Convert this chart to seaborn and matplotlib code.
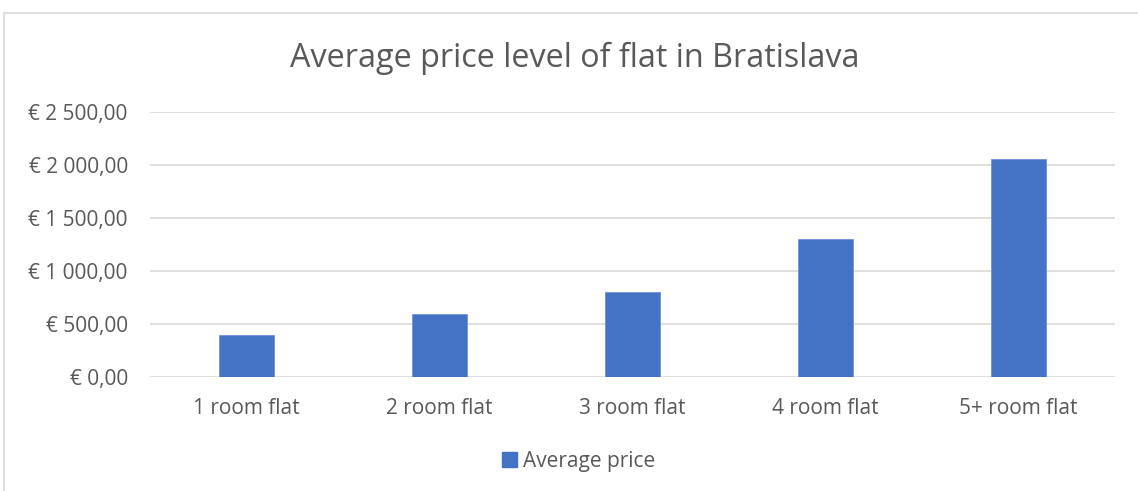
import matplotlib
matplotlib.use("Agg")
import matplotlib.pyplot as plt
import matplotlib.patches as mpatches
import seaborn as sns
import pandas as pd
from matplotlib.ticker import FuncFormatter

categories = ["1 room flat", "2 room flat", "3 room flat", "4 room flat", "5+ room flat"]
values = [395, 590, 800, 1300, 2060]
series_name = "Average price"
title = "Average price level of flat in Bratislava"

sns.set_theme(style="white")
plt.rcParams['font.family'] = ['Open Sans', 'DejaVu Sans']

df = pd.DataFrame({"cat": categories, "val": values})

fig = plt.figure(figsize=(11.38, 4.91), dpi=100)
W, H = 1138, 491
ax = fig.add_axes([150 / W, 1 - 376.7 / H, (1115 - 150) / W, (376.7 - 112) / H])

sns.barplot(data=df, x="cat", y="val", color="#4472C4", width=0.29, ax=ax,
            saturation=1, edgecolor="#6f93d6", linewidth=0.6, zorder=3)

ax.set_ylim(0, 2500)
ax.set_yticks([0, 500, 1000, 1500, 2000, 2500])

def fmt(v, pos):
    s = f"{v:,.2f}".replace(",", " ").replace(".", ",")
    return "€ " + s
ax.yaxis.set_major_formatter(FuncFormatter(fmt))
ax.grid(axis="y", color="#d9d9d9", linewidth=1.2, zorder=0)
ax.set_axisbelow(True)
for s in ax.spines.values():
    s.set_visible(False)
ax.set_xlabel("")
ax.set_ylabel("")
ax.tick_params(axis="y", length=0, pad=16, labelsize=15, labelcolor="#595959")
ax.tick_params(axis="x", length=0, pad=15, labelsize=15, labelcolor="#595959")

fig.text(575 / W, 1 - 58 / H, title, ha="center", va="center", fontsize=23.3, color="#595959")

handle = mpatches.Patch(color="#4472C4", label=series_name)
fig.legend(handles=[handle], loc="center", bbox_to_anchor=(579 / W, 1 - 461 / H), frameon=False,
           fontsize=15, labelcolor="#595959", handlelength=0.7, handleheight=0.7, handletextpad=0.3)

rect = mpatches.Rectangle((4 / W, -0.1), 1.2, 1 - 13 / H + 0.1, transform=fig.transFigure,
                          fill=False, edgecolor="#d9d9d9", linewidth=1.2)
fig.patches.append(rect)

fig.savefig("out.png", dpi=100)
